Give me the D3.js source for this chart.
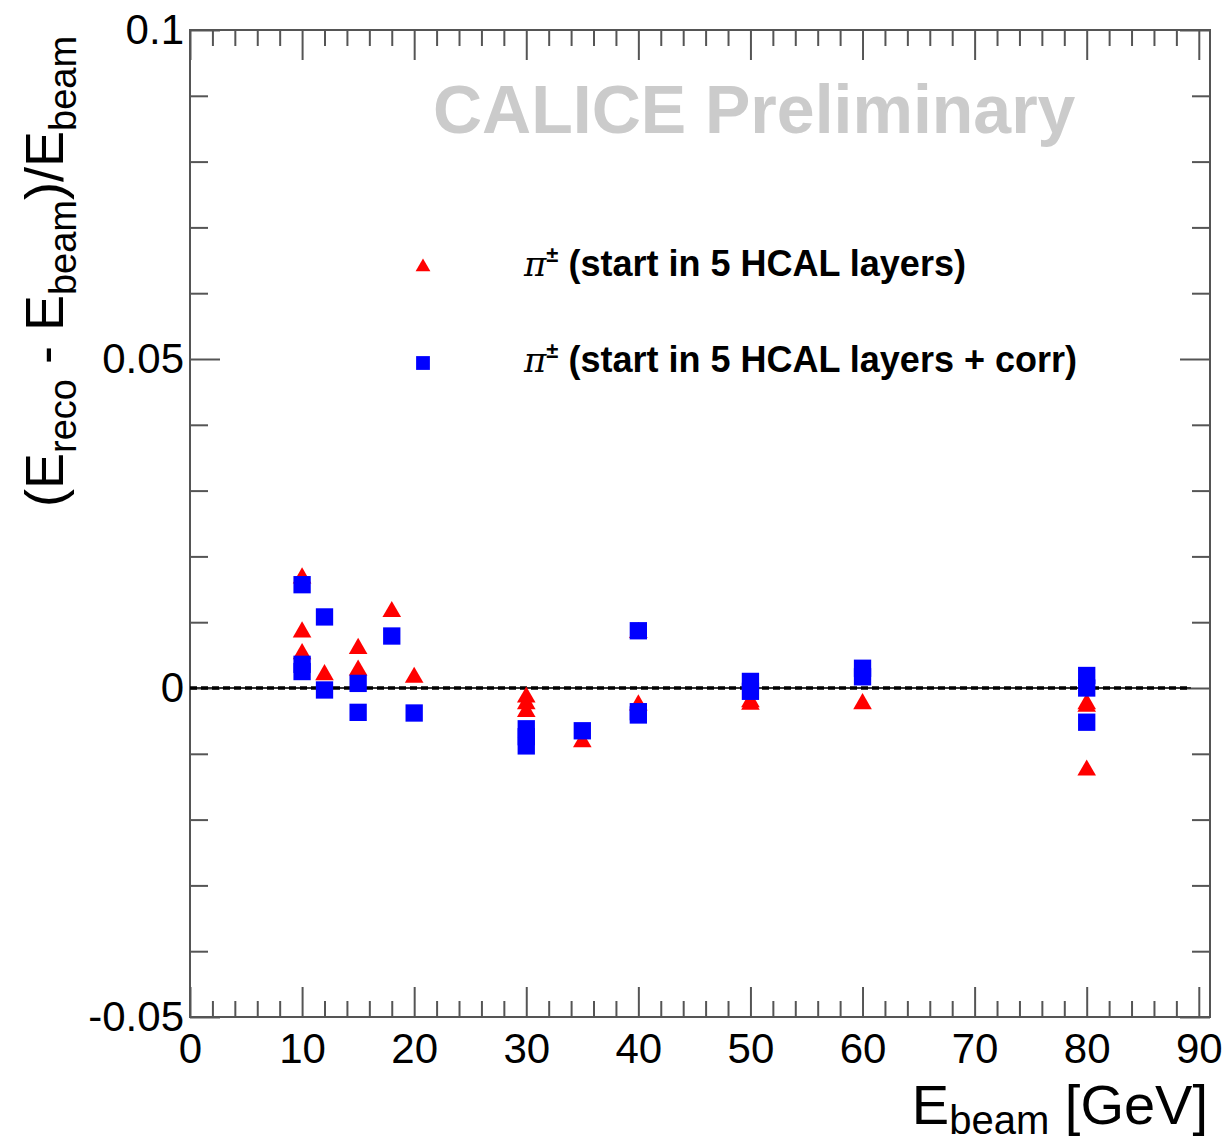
<!DOCTYPE html>
<html>
<head>
<meta charset="utf-8">
<script src="https://cdn.jsdelivr.net/npm/d3@7"></script>
<style>
  body { margin: 0; background: #fff; }
  svg { display: block; }
  .tick text { font-family: "Liberation Sans", Arial, sans-serif; font-size: 42px; fill: #000; }
  .tick line { stroke: #555; stroke-width: 2px; }
</style>
</head>
<body>
<div id="chart"></div>
<script>
/*global d3*/
// reading values from the picture, x = beam energy [GeV], y = (Ereco - Ebeam)/Ebeam
var triE   = [10, 10, 10, 12, 15, 15, 18, 20, 30, 30, 30, 35, 40, 40, 50, 50, 60, 80, 80, 80];
var triVal = [0.0167, 0.0085, 0.0052, 0.0020, 0.0060, 0.0027, 0.0116, 0.0016,
              -0.0014, -0.0024, -0.0036, -0.0082, 0.0084, -0.0026,
              -0.0021, -0.0025, -0.0024, -0.0024, -0.0028, -0.0125];

var sqE    = [10, 10, 10, 12, 12, 15, 15, 18, 20, 30, 30, 30, 35, 40, 40, 40, 50, 50, 60, 60, 80, 80, 80];
var sqVal  = [0.0157, 0.0036, 0.0025, 0.0108, -0.0003, 0.0007, -0.0037, 0.0079, -0.0038,
              -0.0062, -0.0074, -0.0088, -0.0065, 0.0087, -0.0036, -0.0041,
              0.0010, -0.0005, 0.0030, 0.0017, 0.0019, 0.0000, -0.0052];

var xMajor = [0, 10, 20, 30, 40, 50, 60, 70, 80, 90];
var xMinor = d3.range(0, 91, 2).filter(function (v) { return v % 10 !== 0; });
var yMajor = [-0.05, 0, 0.05, 0.1];
var yMinorTicks = d3.range(-50, 101, 10).map(function (v) { return v / 1000; })
    .filter(function (v) { return yMajor.indexOf(v) < 0; });
var yTickLabels = ["-0.05", "0", "0.05", "0.1"];
var legendNames = ["(start in 5 HCAL layers)", "(start in 5 HCAL layers + corr)"];

(function () {
    "use strict";
    var W = 1225, H = 1143,
        left = 190, right = 1210, top = 30, bottom = 1017,
        font = '"Liberation Sans", Arial, sans-serif',
        red = "#ff0000", blue = "#0000ff";

    var x = d3.scaleLinear().domain([0, 91]).range([left, right]),
        y = d3.scaleLinear().domain([-0.05, 0.1]).range([bottom, top]);

    var svg = d3.select("#chart").append("svg")
        .attr("width", W)
        .attr("height", H);

    // preliminary watermark
    svg.append("text")
        .attr("x", 433).attr("y", 133)
        .attr("font-family", font).attr("font-weight", "bold")
        .attr("font-size", 68).attr("fill", "#cbcbcb")
        .text("CALICE Preliminary");

    // axes (ticks point into the frame)
    function fmtY(d) { return yTickLabels[yMajor.indexOf(d)]; }

    svg.append("g").attr("transform", "translate(0," + bottom + ")")
        .call(d3.axisBottom(x).tickValues(xMajor).tickSize(-30).tickPadding(16).tickFormat(d3.format("d")));
    svg.append("g").attr("transform", "translate(0," + bottom + ")")
        .call(d3.axisBottom(x).tickValues(xMinor).tickSize(-16).tickFormat(""));
    svg.append("g").attr("transform", "translate(0," + top + ")")
        .call(d3.axisTop(x).tickValues(xMajor).tickSize(-30).tickFormat(""));
    svg.append("g").attr("transform", "translate(0," + top + ")")
        .call(d3.axisTop(x).tickValues(xMinor).tickSize(-16).tickFormat(""));

    svg.append("g").attr("transform", "translate(" + left + ",0)")
        .call(d3.axisLeft(y).tickValues(yMajor).tickSize(-30).tickPadding(6).tickFormat(fmtY));
    svg.append("g").attr("transform", "translate(" + left + ",0)")
        .call(d3.axisLeft(y).tickValues(yMinorTicks).tickSize(-18).tickFormat(""));
    svg.append("g").attr("transform", "translate(" + right + ",0)")
        .call(d3.axisRight(y).tickValues(yMajor).tickSize(-30).tickFormat(""));
    svg.append("g").attr("transform", "translate(" + right + ",0)")
        .call(d3.axisRight(y).tickValues(yMinorTicks).tickSize(-18).tickFormat(""));

    svg.selectAll(".domain").remove();

    svg.append("rect")
        .attr("x", left).attr("y", top)
        .attr("width", right - left).attr("height", bottom - top)
        .attr("fill", "none").attr("stroke", "#555").attr("stroke-width", 2);

    // zero line: solid + dashed
    svg.append("line")
        .attr("x1", left).attr("x2", x(89.3))
        .attr("y1", y(0)).attr("y2", y(0))
        .attr("stroke", "#333").attr("stroke-width", 2);
    svg.append("line")
        .attr("x1", left).attr("x2", x(89.3))
        .attr("y1", y(0)).attr("y2", y(0))
        .attr("stroke", "#000").attr("stroke-width", 3.5)
        .attr("stroke-dasharray", "7,4");

    // markers
    var tri = d3.symbol().type(d3.symbolTriangle).size(150),
        sq = d3.symbol().type(d3.symbolSquare).size(300);

    svg.append("g").selectAll("path")
        .data(d3.zip(triE, triVal))
        .enter().append("path")
        .attr("d", tri)
        .attr("transform", function (d) { return "translate(" + x(d[0]) + "," + y(d[1]) + ")"; })
        .attr("fill", red);

    svg.append("g").selectAll("path")
        .data(d3.zip(sqE, sqVal))
        .enter().append("path")
        .attr("d", sq)
        .attr("transform", function (d) { return "translate(" + x(d[0]) + "," + y(d[1]) + ")"; })
        .attr("fill", blue);

    // legend
    var leg = svg.append("g");
    leg.append("path").attr("d", d3.symbol().type(d3.symbolTriangle).size(95))
        .attr("transform", "translate(423,267)").attr("fill", red);
    leg.append("path").attr("d", d3.symbol().type(d3.symbolSquare).size(190))
        .attr("transform", "translate(423,363)").attr("fill", blue);

    legendNames.forEach(function (name, i) {
        var t = leg.append("text")
            .attr("x", 524).attr("y", 276 + i * 96)
            .attr("font-family", font).attr("font-weight", "bold")
            .attr("font-size", 36).attr("fill", "#000");
        t.append("tspan").attr("font-family", '"DejaVu Serif", serif')
            .attr("font-style", "italic")
            .attr("font-weight", "normal").attr("font-size", 34).text("\u03c0");
        t.append("tspan").attr("font-size", 22).attr("dy", -14).text("\u00b1");
        t.append("tspan").attr("dy", 14).text(" " + name);
    });

    // axis titles
    var xt = svg.append("text")
        .attr("x", 1208).attr("y", 1124)
        .attr("text-anchor", "end")
        .attr("font-family", font).attr("font-size", 56).attr("fill", "#000");
    xt.append("tspan").text("E");
    xt.append("tspan").attr("font-size", 40).attr("dy", 10).text("beam");
    xt.append("tspan").attr("dy", -10).text(" [GeV]");

    var yt = svg.append("text")
        .attr("transform", "translate(63,507) rotate(-90)")
        .attr("font-family", font).attr("font-size", 54).attr("fill", "#000");
    yt.append("tspan").text("(E");
    yt.append("tspan").attr("font-size", 38).attr("dy", 13).text("reco");
    yt.append("tspan").attr("dy", -13).text(" - E");
    yt.append("tspan").attr("font-size", 38).attr("dy", 13).text("beam");
    yt.append("tspan").attr("dy", -13).text(")/E");
    yt.append("tspan").attr("font-size", 38).attr("dy", 13).text("beam");
}());
</script>
</body>
</html>
